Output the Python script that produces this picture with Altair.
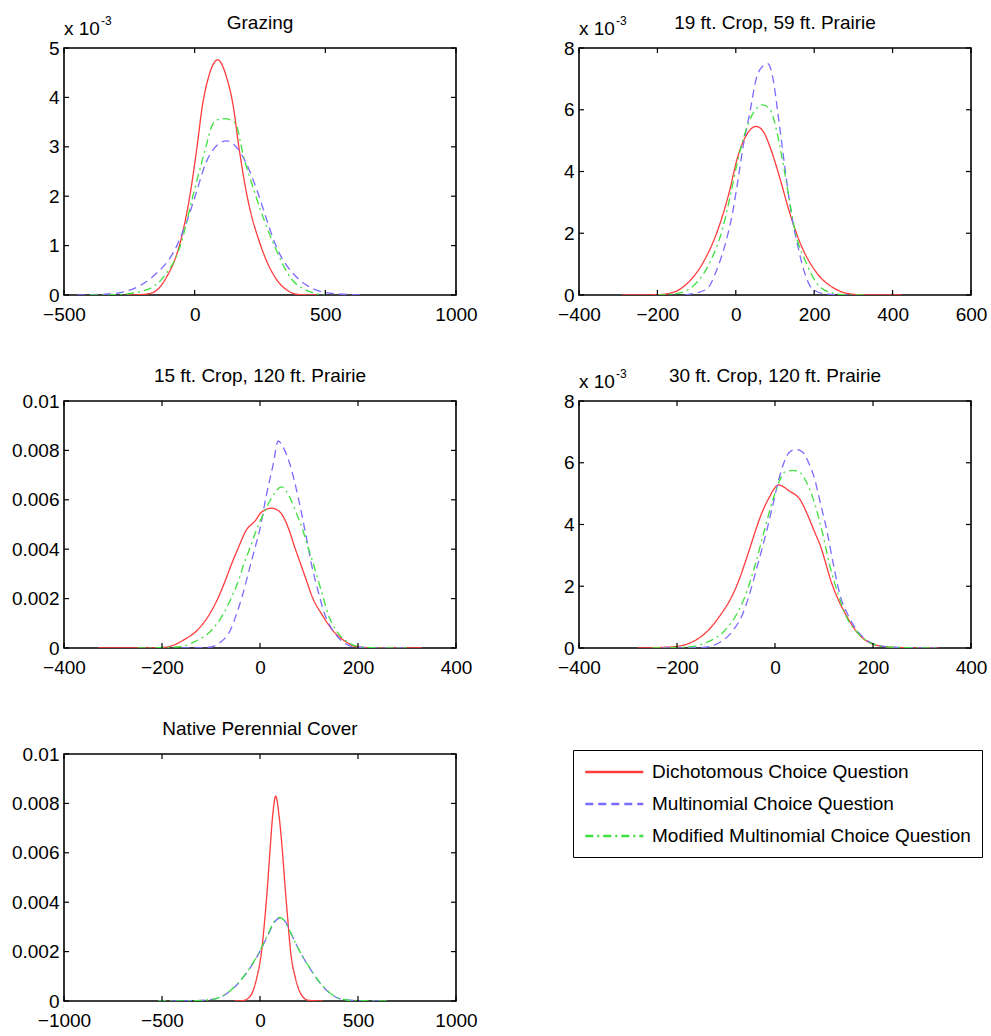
import altair as alt
import pandas as pd

FONT = "Liberation Sans, Arial, Helvetica, sans-serif"
FS = 19
SERIES = ["Dichotomous Choice Question", "Multinomial Choice Question",
          "Modified Multinomial Choice Question"]
COLORS = ["#ff3b3b", "#7a6bff", "#3fe03f"]
DASHES = [[1, 0], [8, 5], [8, 4, 2, 4]]

# ---------------- Panel 1: Grazing ----------------
g_red_x = [-260, -200, -160, -110, -58, -18, 10, 28, 52, 88, 123, 149, 168, 200, 252, 310, 362, 400, 470]
g_red_y = [0, 0.00001, 0.00005, 0.00034, 0.00101, 0.00202, 0.00304, 0.00378, 0.00439, 0.00476,
           0.00439, 0.00378, 0.00304, 0.00202, 0.00101, 0.00034, 0.00007, 0.00001, 0]
g_blue_x = [-450, -330, -233, -168, -67, -26, 3, 45, 90, 122, 155, 194, 245, 274, 310, 394, 452, 530, 650]
g_blue_y = [0, 0.00002, 0.00013, 0.00034, 0.00101, 0.00155, 0.00202, 0.00270, 0.00305, 0.00312,
            0.00302, 0.00270, 0.00202, 0.00155, 0.00101, 0.00034, 0.00013, 0.00003, 0]
g_green_x = [-400, -290, -187, -123, -54, -6, 45, 62, 80, 115, 150, 164, 177, 233, 304, 368, 426, 470, 500]
g_green_y = [0, 0.00001, 0.00010, 0.00034, 0.00101, 0.00202, 0.00304, 0.00337, 0.00353, 0.00357,
             0.00350, 0.00337, 0.00304, 0.00202, 0.00101, 0.00034, 0.00010, 0.00002, 0]

# ---------------- Panel 2: 19 ft. Crop, 59 ft. Prairie ----------------
a_red_x = [-290, -200, -159, -121, -83, -45, -19, 6, 28, 52, 70, 86, 113, 137, 167, 205, 255, 289, 340, 424]
a_red_y = [0, 0.00001, 0.00009, 0.00041, 0.00106, 0.00214, 0.00322, 0.00452, 0.00520, 0.00546,
           0.00530, 0.00484, 0.00376, 0.00268, 0.00160, 0.00074, 0.00019, 0.00004, 0, 0]
a_blue_x = [-130, -117, -74, -51, -28, -8, 6, 19, 36, 52, 68, 82, 95, 107, 118, 129, 141, 158, 175,
            196, 230, 260, 300]
a_blue_y = [0, 0.00003, 0.00019, 0.00074, 0.00160, 0.00268, 0.00376, 0.00484, 0.00592, 0.00700,
            0.00740, 0.00749, 0.00700, 0.00592, 0.00484, 0.00376, 0.00268, 0.00160, 0.00074,
            0.00019, 0.00003, 0.00001, 0]
a_green_x = [-200, -150, -108, -66, -34, -14, 4, 27, 50, 69, 88, 103, 120, 135, 150, 179, 205, 239, 280, 330]
a_green_y = [0, 0.00005, 0.00030, 0.00106, 0.00214, 0.00322, 0.00430, 0.00538, 0.00600, 0.00616,
             0.00600, 0.00538, 0.00430, 0.00322, 0.00214, 0.00106, 0.00041, 0.00009, 0.00001, 0]

# ---------------- Panel 3: 15 ft. Crop, 120 ft. Prairie ----------------
b_red_x = [-330, -250, -197, -180, -153, -129, -103, -85, -71, -58, -44, -29, -10, 3, 24, 41, 60, 71,
           83, 95, 107, 126, 149, 177, 197, 230, 330]
b_red_y = [0, 0, 0.00002, 0.00009, 0.00036, 0.00070, 0.00137, 0.00205, 0.00272, 0.00340, 0.00407,
           0.00474, 0.00515, 0.00550, 0.00566, 0.00550, 0.00474, 0.00407, 0.00340, 0.00272, 0.00205,
           0.00137, 0.00070, 0.00023, 0.00005, 0.00001, 0]
b_blue_x = [-160, -105, -81, -61, -48, -37, -19, -10, -1, 12, 27, 37, 48, 61, 78, 92, 105, 122, 132,
            149, 170, 190, 230, 300]
b_blue_y = [0, 0.00003, 0.00023, 0.00070, 0.00137, 0.00205, 0.00340, 0.00407, 0.00474, 0.00609,
            0.00744, 0.00838, 0.00810, 0.00744, 0.00609, 0.00474, 0.00340, 0.00205, 0.00137,
            0.00070, 0.00023, 0.00005, 0.00001, 0]
b_green_x = [-250, -163, -136, -100, -75, -58, -44, -33, -20, -8, 7, 24, 44, 61, 75, 88, 98, 109, 119,
             129, 139, 156, 180, 204, 240, 300]
b_green_y = [0, 0.00005, 0.00023, 0.00070, 0.00137, 0.00205, 0.00272, 0.00340, 0.00407, 0.00474,
             0.00542, 0.00609, 0.00652, 0.00609, 0.00542, 0.00474, 0.00407, 0.00340, 0.00272,
             0.00205, 0.00137, 0.00070, 0.00023, 0.00005, 0.00001, 0]

# ---------------- Panel 4: 30 ft. Crop, 120 ft. Prairie ----------------
c_red_x = [-280, -230, -201, -171, -137, -110, -89, -74, -62, -51, -40, -28, -12, 7, 29, 53, 66, 80,
           94, 104, 114, 127, 144, 165, 192, 222, 260, 334]
c_red_y = [0, 0.00002, 0.00005, 0.00018, 0.00056, 0.00110, 0.00164, 0.00218, 0.00272, 0.00325,
           0.00379, 0.00433, 0.00487, 0.00528, 0.00509, 0.00476, 0.00433, 0.00379, 0.00325,
           0.00272, 0.00218, 0.00164, 0.00110, 0.00056, 0.00018, 0.00005, 0.00001, 0]
c_blue_x = [-230, -147, -113, -86, -66, -54, -35, -17, -1, 7, 17, 30, 43, 56, 70, 82, 90, 106, 119,
            134, 148, 168, 195, 230, 280, 330]
c_blue_y = [0, 0.00002, 0.00018, 0.00056, 0.00110, 0.00164, 0.00272, 0.00379, 0.00487, 0.00541,
            0.00595, 0.00635, 0.00643, 0.00635, 0.00595, 0.00541, 0.00487, 0.00379, 0.00272,
            0.00164, 0.00110, 0.00056, 0.00018, 0.00004, 0.00001, 0]
c_green_x = [-250, -180, -140, -103, -78, -62, -40, -22, -3, 9, 20, 36, 50, 63, 77, 96, 111, 131,
             143, 165, 192, 225, 270, 330]
c_green_y = [0, 0.00003, 0.00018, 0.00056, 0.00110, 0.00164, 0.00272, 0.00379, 0.00487, 0.00541,
             0.00570, 0.00575, 0.00570, 0.00541, 0.00487, 0.00379, 0.00272, 0.00164, 0.00110,
             0.00056, 0.00018, 0.00004, 0.00001, 0]

# ---------------- Panel 5: Native Perennial Cover ----------------
n_red_x = [-130, -85, -46, -17, 8, 25, 39, 51, 64, 80, 98, 114, 127, 141, 156, 181, 212, 246, 320]
n_red_y = [0, 0.00002, 0.00024, 0.00092, 0.00201, 0.00337, 0.00473, 0.00609, 0.00745, 0.00829,
           0.00745, 0.00609, 0.00473, 0.00337, 0.00201, 0.00092, 0.00024, 0.00003, 0]
n_blue_x = [-520, -350, -271, -195, -119, -51, 0, 42, 75, 102, 130, 161, 203, 254, 314, 381, 441, 530, 645]
n_blue_y = [0, 0.00001, 0.00004, 0.00018, 0.00065, 0.00133, 0.00201, 0.00269, 0.00320, 0.00337,
            0.00320, 0.00269, 0.00201, 0.00133, 0.00065, 0.00018, 0.00004, 0.00001, 0]
n_green_x = [-520, -350, -271, -200, -122, -53, -2, 40, 73, 100, 128, 160, 203, 255, 316, 383, 443, 530, 645]
n_green_y = [0, 0.00001, 0.00004, 0.00017, 0.00064, 0.00133, 0.00201, 0.00270, 0.00322, 0.00338,
             0.00321, 0.00270, 0.00201, 0.00133, 0.00065, 0.00018, 0.00004, 0.00001, 0]

W, H = 392, 247
TICK = 5
EXP_EXPR = "format(datum.value * 1000, '.0f')"
PLAIN_EXPR = "format(datum.value, '~g')"


def text_layer(txt, x, y, size, align="left"):
    return alt.Chart(pd.DataFrame({"t": [txt]})).mark_text(
        align=align, baseline="alphabetic", font=FONT, fontSize=size, color="black"
    ).encode(text="t:N", x=alt.value(x), y=alt.value(y))


def panel(title, xticks, yticks, curves, label_expr, exponent, legend=None):
    rows = []
    for name, (xs, ys) in zip(SERIES, curves):
        for a, b in zip(xs, ys):
            rows.append({"v": a, "d": b, "series": name})
    df = pd.DataFrame(rows)
    xscale = alt.Scale(domain=[xticks[0], xticks[-1]], nice=False, zero=False)
    yscale = alt.Scale(domain=[yticks[0], yticks[-1]], nice=False, zero=False)
    xaxis = alt.Axis(values=xticks, title=None, grid=False, domain=False, ticks=False,
                     labelFlush=False, labelOverlap=False, labelPadding=10, labelFont=FONT,
                     labelFontSize=FS, labelColor="black", format="d")
    yaxis = alt.Axis(values=yticks, title=None, grid=False, domain=False, ticks=False,
                     labelPadding=5, labelFont=FONT, labelFontSize=FS, labelColor="black",
                     labelExpr=label_expr, labelOverlap=False)
    X = alt.X("v:Q", scale=xscale, axis=xaxis)
    Y = alt.Y("d:Q", scale=yscale, axis=yaxis)

    lines = alt.Chart(df).mark_line(strokeWidth=1.3, interpolate="monotone", clip=True).encode(
        x=X, y=Y,
        color=alt.Color("series:N", sort=SERIES,
                        scale=alt.Scale(domain=SERIES, range=COLORS), legend=legend),
        strokeDash=alt.StrokeDash("series:N", sort=SERIES,
                                  scale=alt.Scale(domain=SERIES, range=DASHES), legend=legend),
    )
    xt = pd.DataFrame({"v": xticks})
    yt = pd.DataFrame({"d": yticks})
    rule = dict(color="black", strokeWidth=1.2)
    t_bottom = alt.Chart(xt).mark_rule(**rule).encode(x=X, y=alt.value(H), y2=alt.value(H - TICK))
    t_top = alt.Chart(xt).mark_rule(**rule).encode(x=X, y=alt.value(0), y2=alt.value(TICK))
    t_left = alt.Chart(yt).mark_rule(**rule).encode(y=Y, x=alt.value(0), x2=alt.value(TICK))
    t_right = alt.Chart(yt).mark_rule(**rule).encode(y=Y, x=alt.value(W), x2=alt.value(W - TICK))
    layers = [lines, t_bottom, t_top, t_left, t_right,
              text_layer(title, W / 2, -19, FS, align="center")]
    if exponent:
        layers += [text_layer("x 10", 0, -13, FS), text_layer("-3", 37, -23, 12)]
    return alt.layer(*layers).properties(width=W, height=H)


legend = alt.Legend(title=None, orient="none", legendX=509, legendY=-4,
                    symbolType="M-3,0H3", symbolSize=374, symbolOffset=19.3,
                    symbolStrokeWidth=2.5, labelFont=FONT, labelFontSize=FS,
                    labelColor="black", labelOffset=26.7, strokeColor="black", fillColor="white",
                    padding=11, rowPadding=11, labelLimit=500)

p1 = panel("Grazing", [-500, 0, 500, 1000], [0, 0.001, 0.002, 0.003, 0.004, 0.005],
           [(g_red_x, g_red_y), (g_blue_x, g_blue_y), (g_green_x, g_green_y)], EXP_EXPR, True)
p2 = panel("19 ft. Crop, 59 ft. Prairie", [-400, -200, 0, 200, 400, 600],
           [0, 0.002, 0.004, 0.006, 0.008],
           [(a_red_x, a_red_y), (a_blue_x, a_blue_y), (a_green_x, a_green_y)], EXP_EXPR, True)
p3 = panel("15 ft. Crop, 120 ft. Prairie", [-400, -200, 0, 200, 400],
           [0, 0.002, 0.004, 0.006, 0.008, 0.01],
           [(b_red_x, b_red_y), (b_blue_x, b_blue_y), (b_green_x, b_green_y)], PLAIN_EXPR, False)
p4 = panel("30 ft. Crop, 120 ft. Prairie", [-400, -200, 0, 200, 400],
           [0, 0.002, 0.004, 0.006, 0.008],
           [(c_red_x, c_red_y), (c_blue_x, c_blue_y), (c_green_x, c_green_y)], EXP_EXPR, True)
p5 = panel("Native Perennial Cover", [-1000, -500, 0, 500, 1000],
           [0, 0.002, 0.004, 0.006, 0.008, 0.01],
           [(n_red_x, n_red_y), (n_blue_x, n_blue_y), (n_green_x, n_green_y)], PLAIN_EXPR, False,
           legend=legend)

chart = alt.concat(p1, p2, p3, p4, p5, columns=2, spacing={"row": 106, "column": 123},
                   bounds="flush").resolve_legend(
    color="independent", strokeDash="independent"
).properties(
    padding={"left": 10, "top": 13, "right": 0, "bottom": 0}, background="white"
).configure_view(stroke="black", strokeWidth=1.6)

chart.save("out.html", embed_options={"renderer": "svg", "actions": False})
